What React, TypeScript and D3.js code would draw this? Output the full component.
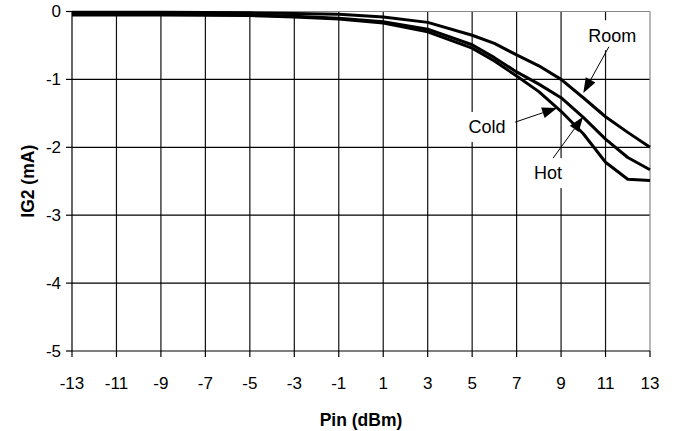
import React from "react";
import * as d3 from "d3";

const W = 675;
const H = 431;
const margin = { left: 72, right: 25, top: 11.5, bottom: 80 };

// Pin (dBm)
const pin = [-13, -11, -9, -7, -5, -3, -1, 1, 3, 5, 6, 7, 8, 9, 10, 11, 12, 13];
// IG2 (mA)
const room = [-0.01, -0.01, -0.01, -0.015, -0.02, -0.03, -0.04, -0.08, -0.16, -0.35, -0.47, -0.64, -0.8, -1.0, -1.27, -1.55, -1.78, -2.0];
const hot = [-0.04, -0.04, -0.045, -0.045, -0.05, -0.07, -0.1, -0.15, -0.26, -0.49, -0.68, -0.89, -1.07, -1.27, -1.56, -1.88, -2.15, -2.33];
const cold = [-0.05, -0.05, -0.05, -0.055, -0.06, -0.08, -0.11, -0.17, -0.3, -0.54, -0.73, -0.95, -1.18, -1.47, -1.8, -2.22, -2.47, -2.49];

const xTicks = [-13, -11, -9, -7, -5, -3, -1, 1, 3, 5, 7, 9, 11, 13];
const yTicks = [0, -1, -2, -3, -4, -5];

// label text position, arrow start, arrow tip (data units)
const labels = [
  { text: "Room", tx: 11.3, ty: -0.35, sx: 11.15, sy: -0.52, ex: 10.0, ey: -1.2 },
  { text: "Cold", tx: 5.67, ty: -1.7, sx: 6.93, sy: -1.63, ex: 8.82, ey: -1.42 },
  { text: "Hot", tx: 8.41, ty: -2.38, sx: 8.64, sy: -2.16, ex: 9.99, ey: -1.55 },
];

const font = "'Liberation Sans', Arial, sans-serif";

export default function App() {
  const x = d3.scaleLinear().domain([-13, 13]).range([margin.left, W - margin.right]);
  const y = d3.scaleLinear().domain([0, -5]).range([margin.top, H - margin.bottom]);

  const line = d3
    .line<number>()
    .x((_, i) => x(pin[i]))
    .y((d) => y(d));

  const x0 = x(-13);
  const x1 = x(13);
  const y0 = y(0);
  const y1 = y(-5);

  return (
    <svg
      width={W}
      height={H}
      style={{ position: "absolute", left: 0, top: 0, background: "#fff" }}
      fontFamily={font}
    >
      {/* grid */}
      {xTicks.slice(1, -1).map((t) => (
        <line key={"gx" + t} x1={x(t)} x2={x(t)} y1={y0} y2={y1} stroke="#111" strokeWidth={1.2} />
      ))}
      {yTicks.slice(1, -1).map((t) => (
        <line key={"gy" + t} x1={x0} x2={x1} y1={y(t)} y2={y(t)} stroke="#000" strokeWidth={1.2} />
      ))}
      <line x1={x0} x2={x1} y1={y0} y2={y0} stroke="#888" strokeWidth={1.2} />
      <line x1={x1} x2={x1} y1={y0} y2={y1} stroke="#888" strokeWidth={1.2} />

      {/* axes */}
      <line x1={x0} x2={x0} y1={y0} y2={y1} stroke="#000" strokeWidth={1.2} />
      <line x1={x0} x2={x1} y1={y1} y2={y1} stroke="#000" strokeWidth={1.2} />
      {xTicks.map((t) => (
        <g key={"xt" + t}>
          <line x1={x(t)} x2={x(t)} y1={y1} y2={y1 + 6} stroke="#000" strokeWidth={1.2} />
          <text x={x(t)} y={389} textAnchor="middle" fontSize={17}>
            {t}
          </text>
        </g>
      ))}
      {yTicks.map((t) => (
        <g key={"yt" + t}>
          <line x1={x0 - 6} x2={x0} y1={y(t)} y2={y(t)} stroke="#000" strokeWidth={1.2} />
          <text x={61} y={y(t)} dy="0.35em" textAnchor="end" fontSize={17}>
            {t}
          </text>
        </g>
      ))}

      <text x={(x0 + x1) / 2} y={426} textAnchor="middle" fontSize={17.5} fontWeight="bold">
        Pin (dBm)
      </text>
      <text
        transform={`translate(34,${(y0 + y1) / 2}) rotate(-90)`}
        textAnchor="middle"
        fontSize={17.5}
        fontWeight="bold"
      >
        IG2 (mA)
      </text>

      {/* series */}
      {[room, hot, cold].map((s, i) => (
        <path key={"s" + i} d={line(s) || ""} fill="none" stroke="#000" strokeWidth={3} strokeLinejoin="round" />
      ))}

      {/* annotations */}
      {labels.map((l) => {
        const sx = x(l.sx);
        const sy = y(l.sy);
        const ex = x(l.ex);
        const ey = y(l.ey);
        const ang = Math.atan2(ey - sy, ex - sx);
        const len = 15;
        const hw = 5.5;
        const bx = ex - len * Math.cos(ang);
        const by = ey - len * Math.sin(ang);
        const px = -Math.sin(ang) * hw;
        const py = Math.cos(ang) * hw;
        const tw = l.text.length * 10.5 + 6;
        return (
          <g key={l.text}>
            <rect x={x(l.tx) - tw / 2} y={y(l.ty) - 15} width={tw} height={30} fill="#fff" />
            <text x={x(l.tx)} y={y(l.ty)} dy="0.35em" textAnchor="middle" fontSize={18}>
              {l.text}
            </text>
            <line x1={sx} y1={sy} x2={bx} y2={by} stroke="#000" strokeWidth={1} />
            <path d={`M${ex},${ey}L${bx + px},${by + py}L${bx - px},${by - py}Z`} fill="#000" />
          </g>
        );
      })}
    </svg>
  );
}
